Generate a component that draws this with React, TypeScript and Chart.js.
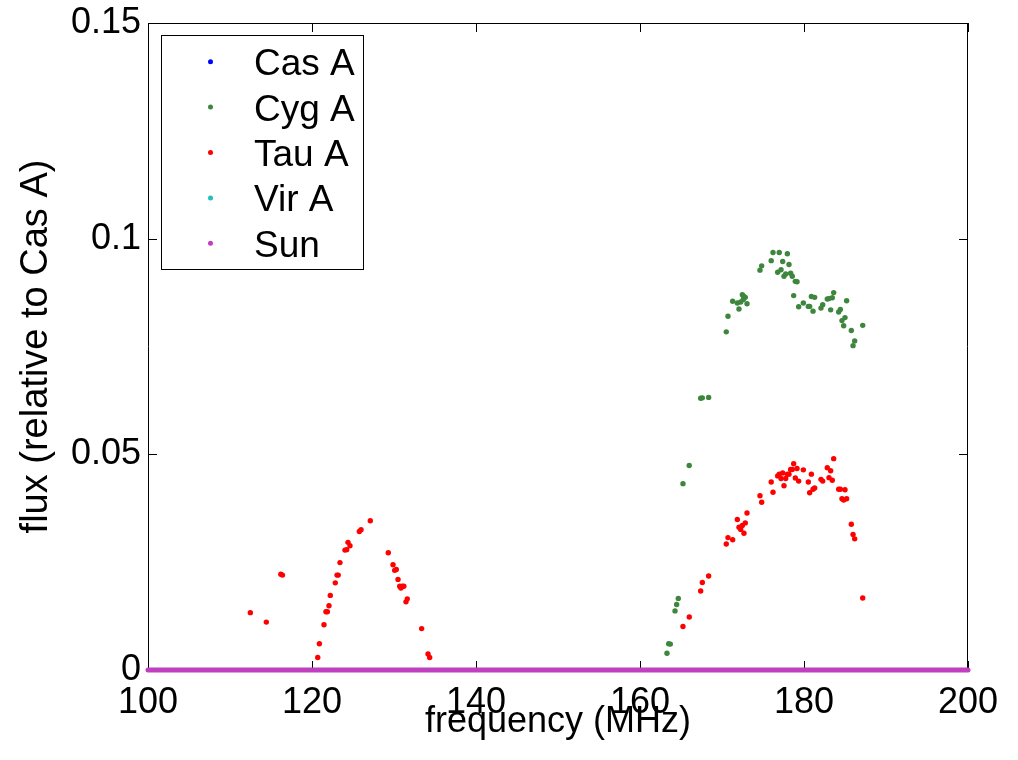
import React, { useEffect, useRef } from "react";
import { Chart, registerables } from "chart.js";

Chart.register(...registerables);

const seriesNames = ["Cas A", "Cyg A", "Tau A", "Vir A", "Sun"];
const seriesColors = ["#0000ff", "#3d863d", "#ff0000", "#22bfbf", "#bf3fbf"];

const xTicks = [100, 120, 140, 160, 180, 200];
const yTicks = [0, 0.05, 0.1, 0.15];

const casFreq: number[] = [];
const casFlux: number[] = [];
const virFreq: number[] = [];
const virFlux: number[] = [];

const sunFreq = [100, 200];
const sunFlux = [0, 0];

const cygFreq = [
  163.29, 163.5, 163.7, 164.27, 164.47, 164.67, 165.24, 166.0, 167.4, 167.6, 168.37,
  170.52, 170.73, 171.3, 171.87, 172.07, 172.28, 172.48, 172.6, 172.68, 172.84, 173.05,
  174.63, 174.84, 176.0, 176.22, 176.79, 176.98, 177.2, 177.4, 177.56, 177.77, 177.97,
  178.17, 178.37, 178.57, 178.74, 178.94, 179.15, 179.35, 179.92, 180.53, 180.69, 180.9,
  181.1, 181.3, 182.07, 182.28, 182.84, 183.05, 183.25, 183.45, 183.62, 184.23, 184.43,
  184.63, 184.84, 185.0, 185.2, 185.77, 185.98, 186.18, 187.16,
];
const cygFlux = [
  0.0039, 0.0061, 0.006, 0.0137, 0.0152, 0.0166, 0.0432, 0.0474, 0.063, 0.0631, 0.0632,
  0.0784, 0.082, 0.0855, 0.0851, 0.0837, 0.0853, 0.087, 0.0859, 0.0866, 0.0864, 0.0849,
  0.0927, 0.0937, 0.0949, 0.0968, 0.0922, 0.0968, 0.0928, 0.0947, 0.0913, 0.0918, 0.0965,
  0.094, 0.092, 0.0913, 0.0868, 0.0901, 0.09, 0.0842, 0.0851, 0.0843, 0.0843, 0.0866,
  0.0832, 0.0864, 0.0839, 0.0847, 0.086, 0.0861, 0.0835, 0.0863, 0.0875, 0.083, 0.0836,
  0.081, 0.0798, 0.0817, 0.0856, 0.0787, 0.0752, 0.0763, 0.0799,
];

const tauFreq = [
  112.48, 114.43, 116.2, 116.4, 120.7, 120.9, 121.46, 121.7, 121.87, 122.07, 122.23,
  122.84, 123.05, 123.2, 123.41, 124.02, 124.23, 124.39, 124.63, 125.77, 125.98, 127.11,
  129.3, 129.88, 130.08, 130.28, 130.49, 130.7, 130.85, 131.0, 131.2, 131.46, 131.62,
  133.37, 134.15, 134.35,
  165.24, 166.01, 167.4, 167.6, 168.37, 170.52, 170.73, 171.3, 171.87, 172.07, 172.28,
  172.48, 172.68, 172.84, 173.05, 174.63, 174.84, 176.0, 176.22, 176.79, 176.98, 177.2,
  177.4, 177.56, 177.77, 177.97, 178.17, 178.37, 178.57, 178.74, 178.94, 179.15, 179.35,
  179.92, 180.53, 180.69, 180.9, 181.1, 181.3, 182.07, 182.28, 182.84, 183.05, 183.25,
  183.45, 183.62, 184.23, 184.43, 184.63, 184.84, 185.0, 185.2, 185.77, 185.98, 186.18,
  187.16,
];
const tauFlux = [
  0.0133, 0.0111, 0.0222, 0.022, 0.0029, 0.0061, 0.0105, 0.0135, 0.0135, 0.0149, 0.0173,
  0.0202, 0.022, 0.022, 0.0249, 0.0278, 0.0279, 0.0296, 0.0288, 0.0321, 0.0325, 0.0346,
  0.0272, 0.0244, 0.0231, 0.0233, 0.021, 0.0194, 0.019, 0.0194, 0.0194, 0.0158, 0.0165,
  0.0096, 0.0037, 0.0029,
  0.0101, 0.0123, 0.0183, 0.0203, 0.0218, 0.0292, 0.0307, 0.0302, 0.0349, 0.0331, 0.0326,
  0.0335, 0.0317, 0.0341, 0.0364, 0.0404, 0.0389, 0.0436, 0.0412, 0.045, 0.0454, 0.0444,
  0.0457, 0.0427, 0.0444, 0.0454, 0.0454, 0.0465, 0.0465, 0.0478, 0.0445, 0.0467, 0.0438,
  0.0464, 0.0436, 0.0411, 0.0454, 0.0419, 0.0422, 0.0442, 0.0438, 0.0469, 0.0446, 0.0462,
  0.044, 0.049, 0.0419, 0.0419, 0.0397, 0.0394, 0.0418, 0.0397, 0.0338, 0.0314, 0.0304,
  0.0167,
];

const FONT = "'Liberation Sans', Arial, Helvetica, sans-serif";
const FS = 36;

const zip = (xs: number[], ys: number[]) => xs.map((x, i) => ({ x, y: ys[i] }));

const boxPlugin = {
  id: "boxTicks",
  beforeDatasetsDraw(chart: any) {
    const { ctx, chartArea, scales } = chart;
    const { left, right, top, bottom } = chartArea;
    const L = 9;
    ctx.save();
    ctx.strokeStyle = "#000";
    ctx.lineWidth = 1;
    ctx.beginPath();
    ctx.rect(left + 0.5, top + 0.5, right - left - 1, bottom - top - 1);
    for (const v of xTicks) {
      const px = Math.round(scales.x.getPixelForValue(v)) + 0.5;
      ctx.moveTo(px, bottom);
      ctx.lineTo(px, bottom - L);
      ctx.moveTo(px, top);
      ctx.lineTo(px, top + L);
    }
    for (const v of yTicks) {
      const py = Math.round(scales.y.getPixelForValue(v)) + 0.5;
      ctx.moveTo(left, py);
      ctx.lineTo(left + L, py);
      ctx.moveTo(right, py);
      ctx.lineTo(right - L, py);
    }
    ctx.stroke();
    ctx.restore();
  },
  afterDraw(chart: any) {
    const { ctx } = chart;
    ctx.save();
    const bx = 161, by = 35, bw = 202, bh = 234;
    ctx.fillStyle = "#fff";
    ctx.fillRect(bx, by, bw, bh);
    ctx.strokeStyle = "#000";
    ctx.lineWidth = 1;
    ctx.strokeRect(bx + 0.5, by + 0.5, bw, bh);
    ctx.font = `37px ${FONT}`;
    ctx.textBaseline = "alphabetic";
    ctx.textAlign = "left";
    chart.data.datasets.forEach((ds: any, i: number) => {
      const cy = 61.7 + i * 45.4;
      ctx.fillStyle = seriesColors[i];
      ctx.beginPath();
      ctx.arc(210.5, cy, 2.5, 0, Math.PI * 2);
      ctx.fill();
      ctx.fillStyle = "#000";
      ctx.fillText(ds.label, 254, cy + 13.5);
    });
    ctx.restore();
  },
};

export default function App() {
  const ref = useRef<HTMLCanvasElement>(null);
  useEffect(() => {
    document.body.style.margin = "0";
    const pointDs = (i: number, xs: number[], ys: number[]) => ({
      label: seriesNames[i],
      data: zip(xs, ys),
      showLine: false,
      pointRadius: 2.7,
      pointBorderWidth: 0,
      pointBackgroundColor: seriesColors[i],
      pointBorderColor: seriesColors[i],
      borderColor: seriesColors[i],
      backgroundColor: seriesColors[i],
    });
    const chart = new Chart(ref.current!, {
      type: "scatter",
      data: {
        datasets: [
          pointDs(0, casFreq, casFlux),
          pointDs(1, cygFreq, cygFlux),
          pointDs(2, tauFreq, tauFlux),
          pointDs(3, virFreq, virFlux),
          {
            label: seriesNames[4],
            data: zip(sunFreq, sunFlux),
            showLine: true,
            pointRadius: 0,
            borderWidth: 5,
            borderCapStyle: "round",
            borderColor: seriesColors[4],
            backgroundColor: seriesColors[4],
            clip: 10,
          } as any,
        ],
      },
      options: {
        animation: false,
        responsive: false,
        layout: { padding: { top: 23, right: 50, left: 0, bottom: 0 } },
        plugins: {
          legend: { display: false },
          tooltip: { enabled: false },
        },
        scales: {
          x: {
            type: "linear",
            min: 100,
            max: 200,
            afterBuildTicks: (s: any) => {
              s.ticks = xTicks.map((v) => ({ value: v }));
            },
            afterFit: (s: any) => {
              s.height = 90;
              s.paddingLeft = 0;
              s.paddingRight = 0;
            },
            grid: { display: false, drawTicks: false },
            border: { display: false },
            ticks: {
              color: "#000",
              font: { family: FONT, size: FS },
              padding: 11,
              maxRotation: 0,
              autoSkip: false,
              callback: (v: any) => String(v),
            },
            title: {
              display: true,
              text: "frequency (MHz)",
              color: "#000",
              font: { family: FONT, size: FS, lineHeight: 1 },
              padding: { top: 0, bottom: 20 },
            },
          },
          y: {
            type: "linear",
            min: 0,
            max: 0.15,
            afterBuildTicks: (s: any) => {
              s.ticks = yTicks.map((v) => ({ value: v }));
            },
            afterFit: (s: any) => {
              s.width = 148;
              s.paddingTop = 0;
              s.paddingBottom = 0;
            },
            grid: { display: false, drawTicks: false },
            border: { display: false },
            ticks: {
              color: "#000",
              font: { family: FONT, size: FS },
              padding: 7,
              autoSkip: false,
              callback: (v: any) => String(+Number(v).toFixed(2)),
            },
            title: {
              display: true,
              text: "flux (relative to Cas A)",
              color: "#000",
              font: { family: FONT, size: 38, lineHeight: 1 },
              padding: { top: 18, bottom: 0 },
            },
          },
        },
      },
      plugins: [boxPlugin],
    });
    return () => chart.destroy();
  }, []);
  return (
    <div style={{ position: "absolute", left: 0, top: 0, width: 1018, height: 760, background: "#fff" }}>
      <canvas ref={ref} width={1018} height={760} style={{ display: "block" }} />
    </div>
  );
}
